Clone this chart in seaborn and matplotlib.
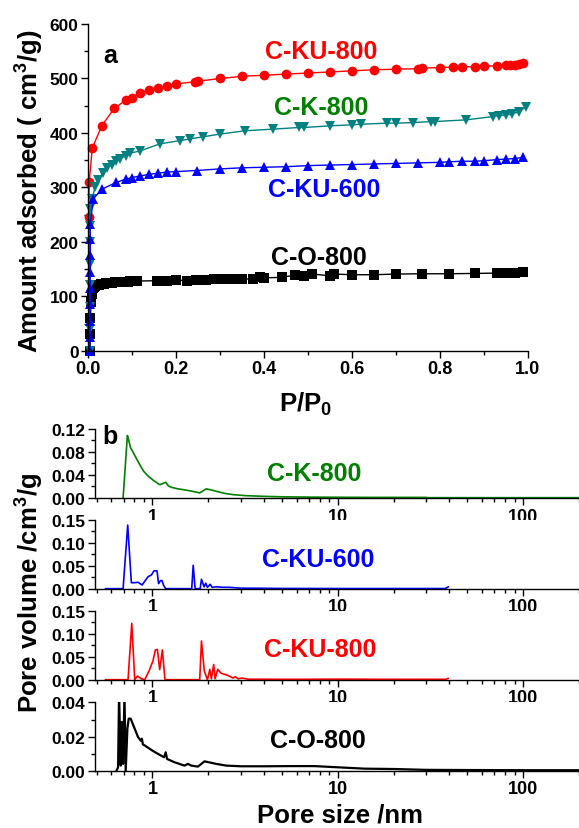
import numpy as np
import pandas as pd
import seaborn as sns
import matplotlib.pyplot as plt
from matplotlib.ticker import MultipleLocator, FormatStrFormatter, NullFormatter, LogLocator

# ---- (a) N2 isotherms ----
p_ku800 = [0.001, 0.002, 0.009, 0.0305, 0.059, 0.085, 0.099, 0.118, 0.139, 0.158, 0.178, 0.199,
           0.243, 0.249, 0.30, 0.35, 0.40, 0.45, 0.50, 0.55, 0.60, 0.65, 0.70, 0.75, 0.76, 0.80,
           0.83, 0.85, 0.88, 0.90, 0.93, 0.95, 0.96, 0.97, 0.98, 0.99]
v_ku800 = [245, 309, 372, 413, 445, 460, 465, 473, 479, 482, 487, 490,
           494, 495, 500, 504, 506, 508, 510, 512, 514, 516, 517, 518, 519, 520,
           521, 521, 522, 523, 523, 524, 525, 525, 526, 528]

p_k800 = [0.003, 0.003, 0.003, 0.003, 0.0032, 0.0035, 0.004, 0.005, 0.009, 0.015, 0.023, 0.033, 0.042,
          0.053, 0.063, 0.072, 0.085, 0.096, 0.118, 0.163, 0.209, 0.231, 0.262, 0.30, 0.357,
          0.42, 0.48, 0.49, 0.55, 0.60, 0.62, 0.68, 0.70, 0.74, 0.78, 0.79, 0.86, 0.92, 0.935,
          0.95, 0.965, 0.98, 0.995]
v_k800 = [0, 40, 80, 120, 160, 200, 230, 260, 279, 300, 314, 326, 336,
          342, 348, 353, 358, 363, 367, 380, 386, 389, 393, 398, 404,
          407, 410, 410, 413, 415, 416, 418, 418, 419, 421, 421, 424, 430, 432,
          433, 435, 439, 447]

p_ku600 = [0.0038, 0.0039, 0.004, 0.0041, 0.0042, 0.0043, 0.0044, 0.0045, 0.0046, 0.011, 0.032,
           0.063, 0.085, 0.099, 0.118, 0.139, 0.158, 0.178, 0.199, 0.247, 0.30, 0.35, 0.40,
           0.45, 0.50, 0.55, 0.60, 0.65, 0.70, 0.75, 0.80, 0.82, 0.85, 0.88, 0.90, 0.93, 0.95,
           0.97, 0.99]
v_ku600 = [0, 25, 55, 85, 115, 145, 175, 205, 232, 279, 297,
           309, 315, 318, 321, 324, 326, 328, 329, 331, 334, 336, 337,
           338, 340, 341, 342, 343, 344, 345, 346, 347, 348, 348, 349, 351, 352,
           353, 355]

p_o800 = [0.004, 0.0045, 0.005, 0.006, 0.008, 0.01, 0.013, 0.016, 0.02, 0.025, 0.03, 0.035, 0.04,
          0.045, 0.05, 0.055, 0.06, 0.065, 0.07, 0.075, 0.08, 0.085, 0.09, 0.095, 0.10, 0.11,
          0.156, 0.178, 0.199, 0.224, 0.245, 0.267, 0.287, 0.308, 0.33, 0.35, 0.375, 0.39,
          0.40, 0.44, 0.47, 0.49, 0.51, 0.55, 0.56, 0.60, 0.65, 0.70, 0.76, 0.82, 0.88, 0.93,
          0.95, 0.97, 0.99]
v_o800 = [0, 30, 60, 90, 105, 115, 117, 119, 120, 121, 122, 123, 123.5,
          124, 124.5, 125, 125.5, 126, 126, 126.5, 126.5, 127, 127, 127.5, 127.5, 128,
          128.6, 128, 130, 128.6, 130, 130.5, 131, 131, 131.5, 131.5, 132, 136,
          134, 134.7, 139, 136.5, 140.8, 137.7, 140.8, 139.6, 139.6, 140.8, 141.4, 141.4, 142, 142.6,
          143, 143.5, 144]

# ---- (b) pore size distributions ----
d_k800 = [0.695, 0.733, 0.745, 0.762, 0.79, 0.82, 0.86, 0.898, 0.947, 1.007, 1.05, 1.095, 1.14,
          1.18, 1.22, 1.265, 1.36, 1.46, 1.62, 1.80, 1.95, 2.07, 2.21, 2.45, 2.72, 3.2, 4.0, 5.0,
          7.0, 10, 15, 20, 30, 30.5, 50, 100, 200]
pv_k800 = [0, 0.108, 0.100, 0.087, 0.078, 0.068, 0.056, 0.046, 0.038, 0.031, 0.027, 0.023, 0.025,
           0.027, 0.021, 0.0185, 0.016, 0.0145, 0.012, 0.0087, 0.0157, 0.014, 0.0116, 0.008, 0.0058,
           0.004, 0.0028, 0.002, 0.0015, 0.0012, 0.001, 0.001, 0.001, 0.0005, 0.0005, 0.0005, 0.0005]

d_ku600 = [0.558, 0.695, 0.736, 0.77, 0.80, 0.837, 0.88, 0.947, 0.988, 1.02, 1.059, 1.08, 1.104,
           1.126, 1.15, 1.18, 1.63, 1.66, 1.70, 1.81, 1.84, 1.9, 1.94, 1.98, 2.05, 2.1, 2.21, 2.4,
           2.6, 3.0, 3.5, 5, 10, 20, 38, 39.5]
pv_ku600 = [0, 0, 0.139, 0.013, 0.013, 0.014, 0.008, 0.026, 0.030, 0.039, 0.039, 0.011, 0.017,
            0.018, 0.007, 0, 0, 0.051, 0, 0, 0.0205, 0.004, 0.012, 0.003, 0.0095, 0.003, 0.004, 0.003,
            0.003, 0.001, 0.001, 0.0005, 0.0003, 0.0003, 0.0003, 0.004]

d_ku800 = [0.558, 0.739, 0.774, 0.803, 0.83, 0.872, 0.909, 0.959, 1.007, 1.038, 1.064, 1.095, 1.132,
           1.169, 1.80, 1.84, 1.905, 1.98, 2.04, 2.08, 2.14, 2.18, 2.25, 2.35, 2.55, 2.72, 2.80, 2.9,
           3.05, 3.3, 4, 6, 10, 20, 38, 39.5]
pv_ku800 = [0, 0, 0.123, 0, 0.008, 0.002, 0, 0.019, 0.041, 0.065, 0.066, 0.022, 0.065,
            0, 0, 0.0845, 0.019, 0, 0.0225, 0.002, 0.033, 0.002, 0.0225, 0.014, 0.0095, 0.0036, 0.0065, 0.002,
            0.0036, 0.001, 0.001, 0.0008, 0.0012, 0.0008, 0.0008, 0.003]

d_o800 = [0.64, 0.653, 0.661, 0.675, 0.684, 0.695, 0.707, 0.718, 0.733, 0.745, 0.764, 0.78, 0.803,
          0.837, 0.868, 0.878, 0.888, 0.909, 1.0, 1.095, 1.155, 1.18, 1.2, 1.32, 1.49, 1.555, 1.62,
          1.76, 1.91, 2.21, 2.5, 3.0, 4.0, 5.5, 7.5, 10, 14, 20, 30, 50, 100, 200]
pv_o800 = [0, 0.002, 0.045, 0.003, 0.0286, 0.004, 0.045, 0, 0.0246, 0.0305, 0.0305, 0.028, 0.0246,
           0.0197, 0.0175, 0.0188, 0.0155, 0.0148, 0.0118, 0.0093, 0.0079, 0.0108, 0.0069, 0.0049, 0.003,
           0.004, 0.003, 0.0024, 0.0055, 0.004, 0.003, 0.0026, 0.0026, 0.0027, 0.0027, 0.002, 0.0012,
           0.001, 0.0005, 0.0004, 0.0003, 0.0003]

RED, TEAL, GREEN, BLUE, BLACK = "#ff0000", "#008080", "#008000", "#0000ff", "#000000"

sns.set_theme(style="ticks")
plt.rcParams["font.family"] = ["Liberation Sans", "DejaVu Sans"]
plt.rcParams["font.weight"] = "bold"
plt.rcParams["axes.labelweight"] = "bold"
plt.rcParams["text.color"] = "black"
plt.rcParams["axes.labelcolor"] = "black"
plt.rcParams["xtick.color"] = "black"
plt.rcParams["ytick.color"] = "black"
plt.rcParams["mathtext.fontset"] = "custom"
plt.rcParams["mathtext.rm"] = "Liberation Sans:bold"
plt.rcParams["mathtext.bf"] = "Liberation Sans:bold"
plt.rcParams["mathtext.default"] = "bf"

fig = plt.figure(figsize=(5.79, 8.29), dpi=100)


def style_axes(ax):
    for s in ["top", "right"]:
        ax.spines[s].set_visible(False)
    for s in ["left", "bottom"]:
        ax.spines[s].set_color("black")
        ax.spines[s].set_linewidth(1.0)
    ax.tick_params(which="major", direction="out", length=5, width=1, color="black",
                   labelcolor="black", pad=2)
    ax.tick_params(which="minor", direction="out", length=3, width=1, color="black")


# top panel
ax = fig.add_axes([0.1525, 0.5757, 0.759, 0.3941])
series = [(p_o800, v_o800, BLACK, "s"), (p_ku800, v_ku800, RED, "o"),
          (p_k800, v_k800, TEAL, "v"), (p_ku600, v_ku600, BLUE, "^")]
for p, v, c, m in series:
    sns.lineplot(x=p, y=v, ax=ax, color=c, marker=m, markersize=7, markeredgewidth=0,
                 linewidth=1.0, sort=False, estimator=None, clip_on=False)
ax.set_xlim(0, 1.0)
ax.set_ylim(0, 600)
ax.xaxis.set_major_locator(MultipleLocator(0.2))
ax.xaxis.set_minor_locator(MultipleLocator(0.1))
ax.yaxis.set_major_locator(MultipleLocator(100))
ax.yaxis.set_minor_locator(MultipleLocator(50))
ax.xaxis.set_major_formatter(FormatStrFormatter("%.1f"))
style_axes(ax)
ax.tick_params(axis="x", labelsize=13)
ax.tick_params(axis="y", labelsize=12.5)
ax.set_xlabel("")
ax.set_ylabel("")
ax.text(0.033, 530, "a", fontsize=18, fontweight="bold", ha="left", va="baseline")
ax.text(0.53, 537, "C-KU-800", color=RED, fontsize=18, fontweight="bold", ha="center", va="baseline")
ax.text(0.53, 435, "C-K-800", color=GREEN, fontsize=18, fontweight="bold", ha="center", va="baseline")
ax.text(0.536, 285, "C-KU-600", color=BLUE, fontsize=18, fontweight="bold", ha="center", va="baseline")
ax.text(0.524, 160, "C-O-800", color=BLACK, fontsize=18, fontweight="bold", ha="center", va="baseline")
fig.text(0.527, 1 - 412 / 829, "P/P$_0$", fontsize=18.5, fontweight="bold", ha="center", va="baseline")
fig.text(0.052, 0.769, "Amount adsorbed ( cm$^3$/g)", fontsize=18.5, fontweight="bold",
         rotation=90, ha="center", va="center")

# bottom panels
panels = [
    (d_k800, pv_k800, GREEN, 0.3981, 0.0838, 0.12, 0.04, 0.02, "C-K-800", 7.5, 0.031),
    (d_ku600, pv_ku600, BLUE, 0.2887, 0.0828, 0.15, 0.05, 0.025, "C-KU-600", 7.85, 0.050),
    (d_ku800, pv_ku800, RED, 0.1789, 0.0829, 0.15, 0.05, 0.025, "C-KU-800", 8.0, 0.052),
    (d_o800, pv_o800, BLACK, 0.0691, 0.0823, 0.04, 0.02, 0.01, "C-O-800", 7.8, 0.0137),
]
for i, (d, pv, c, bot, h, ymax, maj, mnr, name, lx, ly) in enumerate(panels):
    bx = fig.add_axes([0.164, bot, 0.836, h])
    lw = 1.6 if c == BLACK else 1.2
    sns.lineplot(x=d, y=pv, ax=bx, color=c, linewidth=lw, sort=False, estimator=None)
    bx.set_xscale("log")
    bx.set_xlim(0.49, 200)
    bx.set_ylim(0, ymax)
    bx.set_xticks([1, 10, 100])
    bx.set_xticklabels(["1", "10", "100"])
    bx.xaxis.set_minor_locator(LogLocator(base=10, subs=np.arange(2, 10)))
    bx.xaxis.set_minor_formatter(NullFormatter())
    bx.yaxis.set_major_locator(MultipleLocator(maj))
    bx.yaxis.set_minor_locator(MultipleLocator(mnr))
    bx.yaxis.set_major_formatter(FormatStrFormatter("%.2f"))
    style_axes(bx)
    bx.tick_params(axis="x", labelsize=13)
    bx.tick_params(axis="y", labelsize=12.5)
    bx.set_xlabel("")
    bx.set_ylabel("")
    bx.text(lx, ly, name, color=c, fontsize=18, fontweight="bold",
            ha="center", va="baseline")
    if i == 0:
        bx.text(0.535, 0.095, "b", fontsize=18, fontweight="bold", ha="left", va="baseline")

fig.text(0.052, 0.285, "Pore volume /cm$^3$/g", fontsize=18.5, fontweight="bold",
         rotation=90, ha="center", va="center")
fig.text(0.587, 0.002, "Pore size /nm", fontsize=18.5, fontweight="bold", ha="center", va="bottom")

fig.savefig("out.png", dpi=100)
